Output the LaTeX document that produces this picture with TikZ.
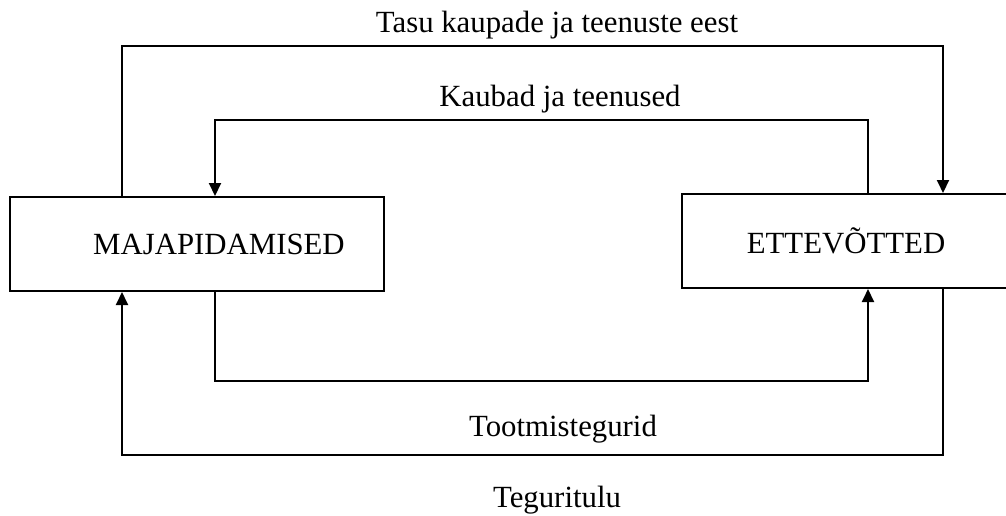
\documentclass[tikz,border=0pt]{standalone}
\usepackage{fontspec}
\setmainfont{Liberation Serif}
\usetikzlibrary{arrows.meta, positioning, calc}
\tikzset{
  sector/.style={draw, line width=1pt, rectangle, inner sep=0pt, minimum height=47pt},
  flow/.style={line width=1pt, -{Triangle[width=6pt,length=6.5pt]}},
  flowlabel/.style={anchor=base, inner sep=0pt}
}

\begin{document}
\begin{tikzpicture}[x=0.5pt, y=-0.5pt, font=\fontsize{15.4}{18}\selectfont]
  \useasboundingbox (0,0) rectangle (1006,515);
  % the two sectors
  \node[sector, minimum width=187pt] (maj) at (197,244) {\hspace*{22pt}MAJAPIDAMISED};
  \node[sector, minimum width=164pt] (ette) at (846,241) {ETTEVÕTTED};
  % money and goods flows
  \draw[flow] (maj.north -| 122,0) |- (943,46) -- (ette.north -| 943,0);
  \draw[flow] (ette.north -| 868,0) |- (215,120) -- (maj.north -| 215,0);
  \draw[flow] (maj.south -| 215,0) |- (868,381) -- (ette.south -| 868,0);
  \draw[flow] (ette.south -| 943,0) |- (122,455) -- (maj.south -| 122,0);
  % labels
  \node[flowlabel] (tasu) at (557,32) {Tasu kaupade ja teenuste eest};
  \node[flowlabel] (kaubad) at (560,106) {Kaubad ja teenused};
  \node[flowlabel] (tootm) at (563,436) {Tootmistegurid};
  \node[flowlabel] (tulu) at (557,507) {Teguritulu};
\end{tikzpicture}
\end{document}
